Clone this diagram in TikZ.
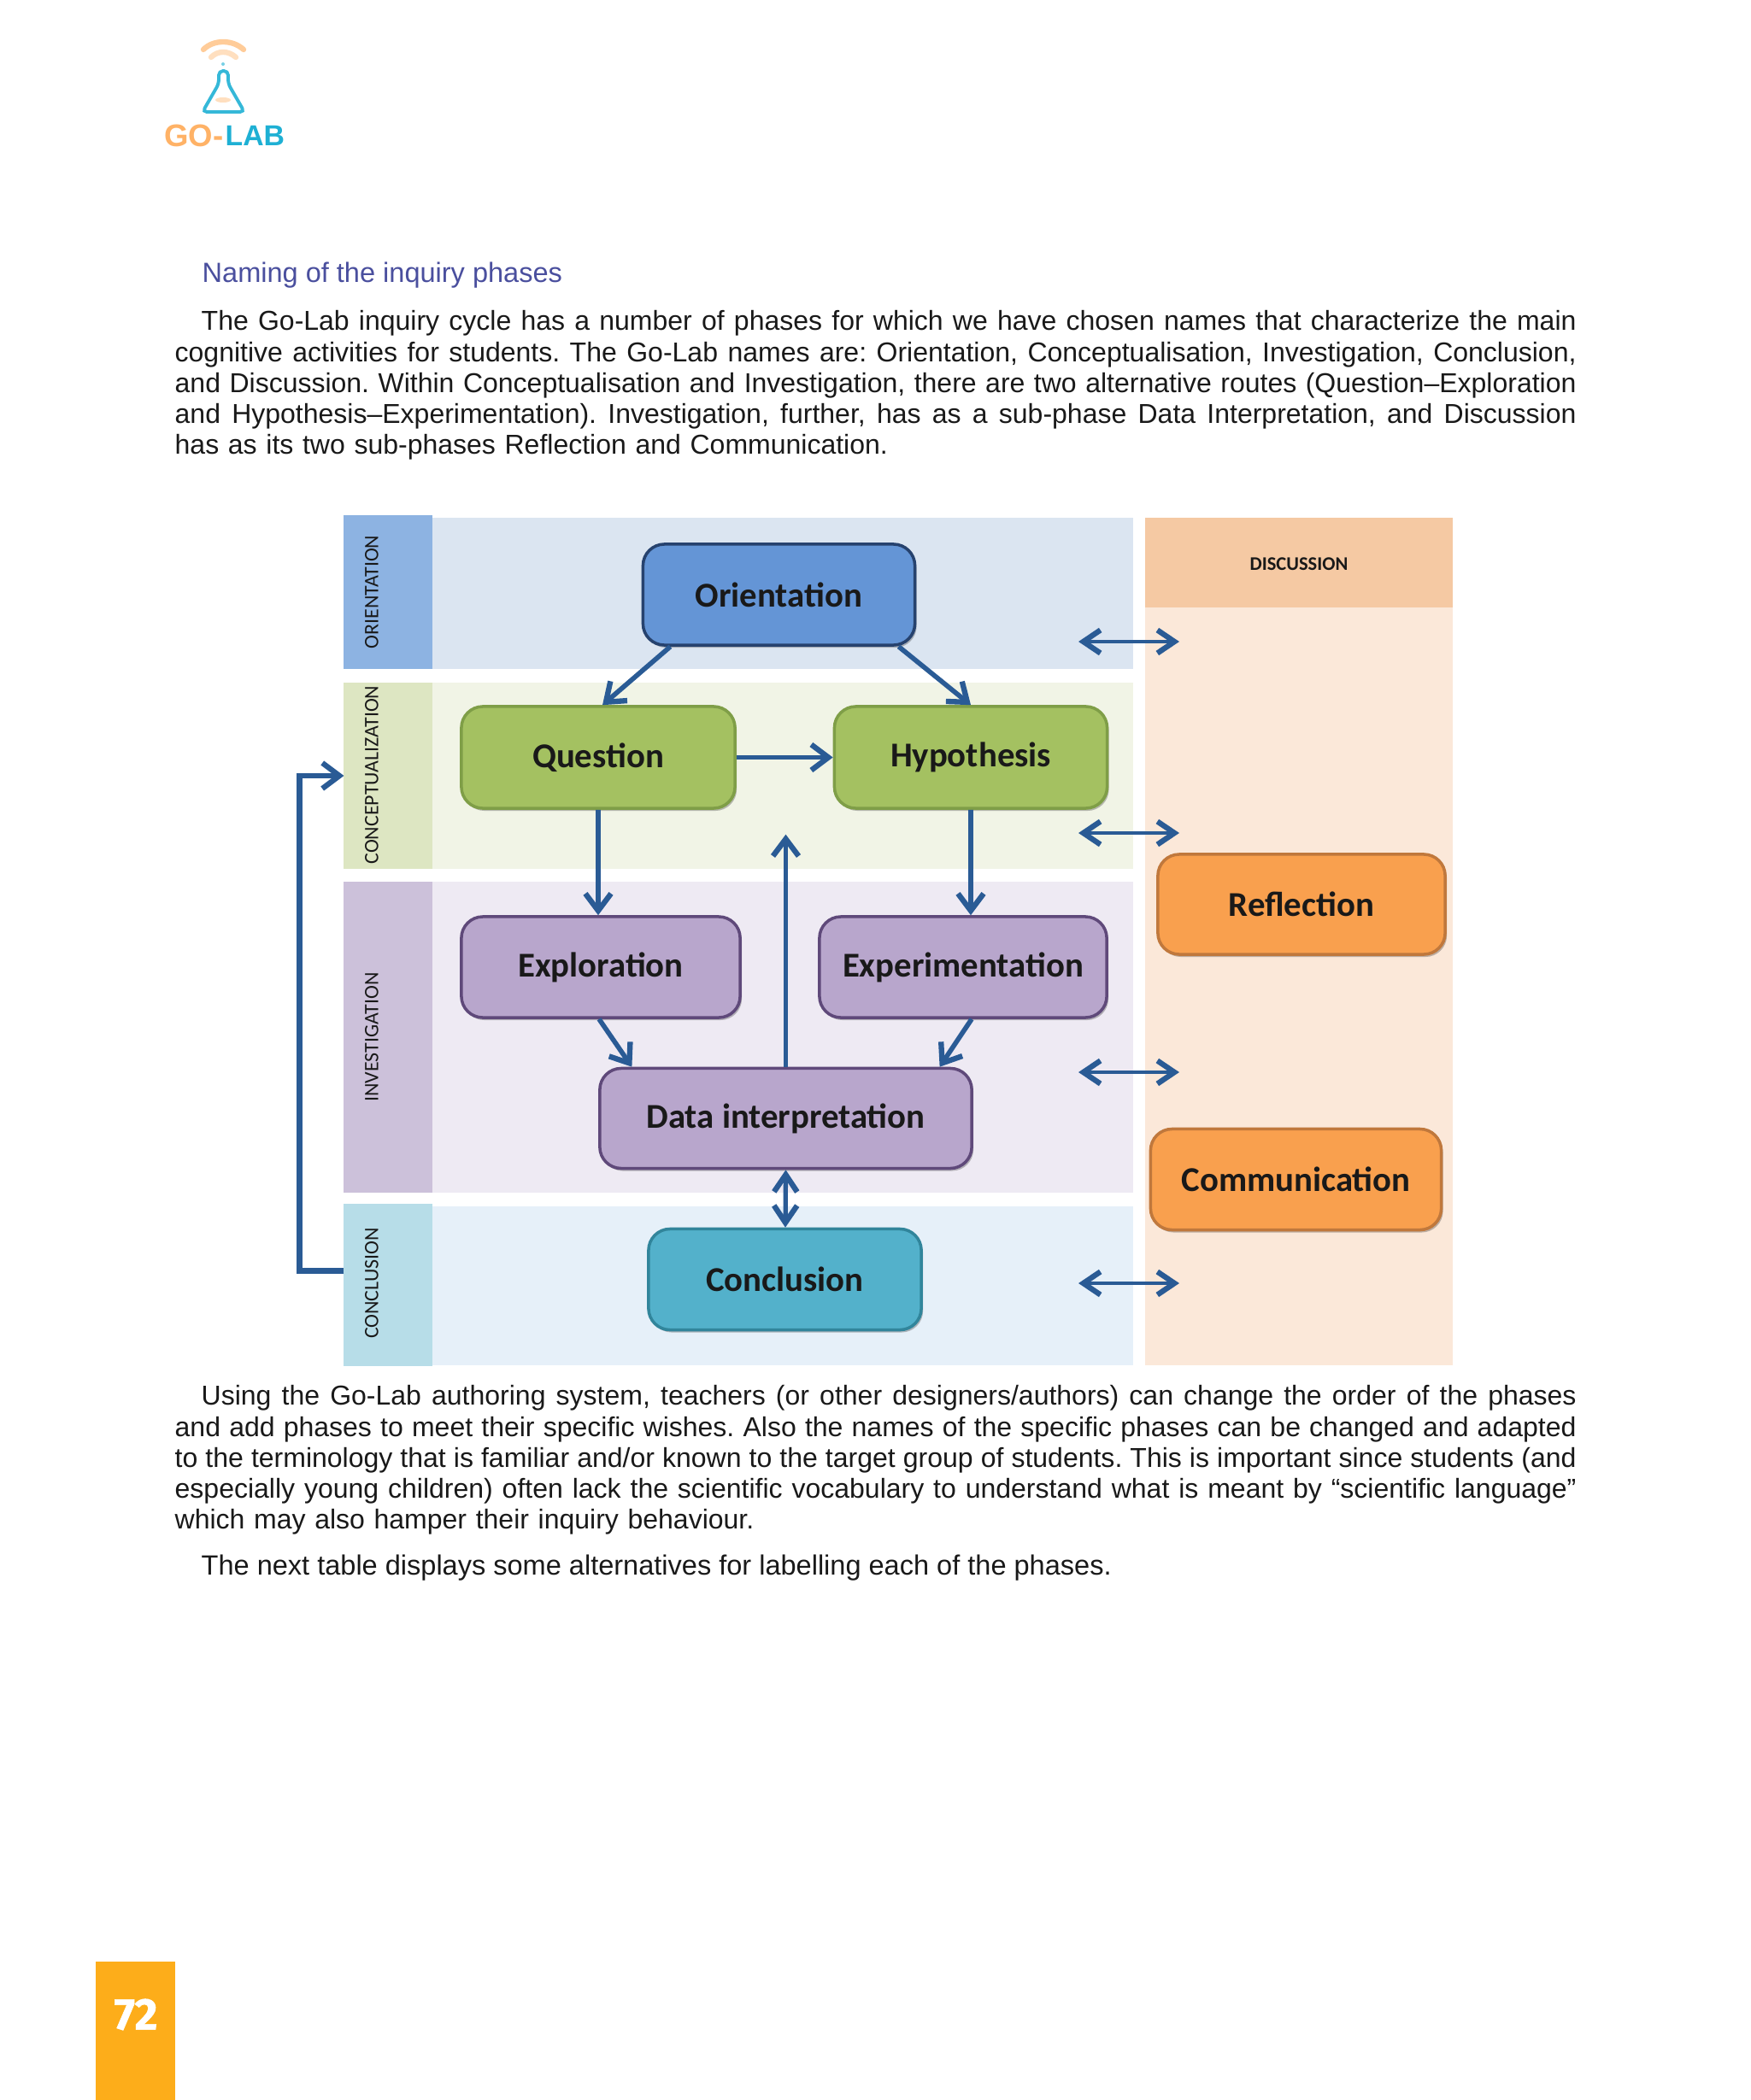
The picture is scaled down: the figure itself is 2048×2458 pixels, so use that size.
\documentclass[tikz,border=0pt]{standalone}
\usepackage{fontspec}
\setmainfont{Liberation Sans}
\newfontfamily\boxfont{Carlito}
\newfontfamily\pagefont[BoldFeatures={FakeBold=1}]{Fira Sans}
\usetikzlibrary{arrows.meta, shadows}
\frenchspacing
\newcommand{\fullline}[1]{\makebox[16.39cm][s]{\spaceskip=0.278em plus 1em minus 0.2em\relax #1}}
\newcommand{\firstline}[1]{\hspace*{0.31cm}\makebox[16.08cm][s]{\spaceskip=0.278em plus 1em minus 0.2em\relax #1}}
\definecolor{arrowblue}{HTML}{2A5B95}
\definecolor{logoblue}{HTML}{1EB0D4}
\tikzset{
    phasebox/.style={draw, line width=1pt, rounded corners=0.25cm, font=\boxfont\bfseries\fontsize{11.6}{14}\selectfont, text=black!90, drop shadow={shadow xshift=0.02cm, shadow yshift=-0.03cm, opacity=0.25, fill=black}},
    band/.style={minimum width=#1, inner sep=0pt, outer sep=0pt},
    bandlabel/.style={rotate=90, font=\boxfont\fontsize{6.8}{8}\selectfont, text=black!90, inner sep=0pt},
    bodytext/.style={anchor=north west, inner sep=0pt, text width=16.39cm, align=left, font=\fontsize{9.1}{10.27}\selectfont, text=black!90},
    flowarrow/.style={draw=arrowblue, line width=1.6pt, -{Straight Barb[length=0.2cm, width=0.3cm, line width=1.8pt]}},
    thinarrow/.style={draw=arrowblue, line width=1.2pt, {Straight Barb[length=0.2cm, width=0.27cm, line width=1.8pt]}-{Straight Barb[length=0.2cm, width=0.27cm, line width=1.8pt]}},
    logoarc/.style={draw=#1, line width=1.8pt, line cap=round},
}

\begin{document}
\begin{tikzpicture}[x=0.01cm, y=-0.01cm]

    \useasboundingbox (0,0) rectangle (2048,2458);
    \fill[white] (0,0) rectangle (2048,2458);

    \draw[logoarc=orange!40] (238,58) .. controls (250,46) and (272,46) .. (285,58);
    \draw[logoarc=orange!25] (247,67) .. controls (255,59) and (267,59) .. (276,67);
    \fill[logoblue!60] (261,75) circle[radius=2];
    \draw[draw=logoblue!90, line width=1.1pt, rounded corners=0.05cm] (256,83) -- (256,98) -- (237,131) -- (286,131) -- (267,98) -- (267,83) -- cycle;
    \fill[orange!25] (261,117) ellipse[x radius=9, y radius=3];
    \node[anchor=east, inner sep=0pt, text=orange!60, font=\bfseries\fontsize{10.4}{12}\selectfont] (logogo) at (262,159) {GO-};
    \node[anchor=west, inner sep=0pt, text=logoblue, font=\bfseries\fontsize{9.6}{12}\selectfont] (loglab) at (263,159) {LAB};

    \node[anchor=west, inner sep=0pt, text={rgb,255:red,74;green,79;blue,158}, font=\fontsize{9.25}{11}\selectfont] (heading) at (236,322) {Naming of the inquiry phases};

    \node[bodytext] (paraone) at (204,363) {\firstline{The Go-Lab inquiry cycle has a number of phases for which we have chosen names that characterize the main}\\
    \fullline{cognitive activities for students. The Go-Lab names are: Orientation, Conceptualisation, Investigation, Conclusion,}\\
    \fullline{and Discussion. Within Conceptualisation and Investigation, there are two alternative routes (Question–Exploration}\\
    \fullline{and Hypothesis–Experimentation). Investigation, further, has as a sub-phase Data Interpretation, and Discussion}\\
    has as its two sub-phases Reflection and Communication.};

    \fill[fill={rgb,255:red,219;green,229;blue,241}] (505,606) rectangle (1326,783);
    \fill[fill={rgb,255:red,241;green,244;blue,230}] (505,799) rectangle (1326,1017);
    \fill[fill={rgb,255:red,238;green,234;blue,243}] (505,1032) rectangle (1326,1396);
    \fill[fill={rgb,255:red,230;green,240;blue,249}] (505,1412) rectangle (1326,1598);
    \fill[fill={rgb,255:red,251;green,232;blue,217}] (1340,710) rectangle (1700,1598);

    \node[band=1.03cm, minimum height=1.79cm, fill={rgb,255:red,141;green,179;blue,226}] (bandorient) at (454,693) {};
    \node[band=1.03cm, minimum height=2.18cm, fill={rgb,255:red,221;green,230;blue,194}] (bandconcept) at (454,908) {};
    \node[band=1.03cm, minimum height=3.63cm, fill={rgb,255:red,204;green,193;blue,218}] (bandinvest) at (454,1214) {};
    \node[band=1.03cm, minimum height=1.89cm, fill={rgb,255:red,183;green,221;blue,232}] (bandconcl) at (454,1504) {};
    \node[band=3.60cm, minimum height=1.04cm, fill={rgb,255:red,245;green,201;blue,163}] (banddisc) at (1520,658.5) {};

    \node[bandlabel] (labelorient) at (435,693) {ORIENTATION};
    \node[bandlabel] (labelconcept) at (435,907) {CONCEPTUALIZATION};
    \node[bandlabel] (labelinvest) at (435,1214) {INVESTIGATION};
    \node[bandlabel] (labelconcl) at (435,1502) {CONCLUSION};
    \node[text=black!90, inner sep=0pt, font=\boxfont\bfseries\fontsize{6.4}{8}\selectfont] (labeldisc) at (1520,660) {DISCUSSION};

    \node[phasebox, minimum width=3.18cm, minimum height=1.18cm, fill={rgb,255:red,100;green,149;blue,214}, draw={rgb,255:red,38;green,66;blue,110}] (orientation) at (911.5,696) {Orientation};
    \node[phasebox, minimum width=3.20cm, minimum height=1.19cm, fill={rgb,255:red,164;green,193;blue,97}, draw={rgb,255:red,127;green,158;blue,71}] (question) at (700,886.5) {Question};
    \node[phasebox, minimum width=3.19cm, minimum height=1.19cm, fill={rgb,255:red,164;green,193;blue,97}, draw={rgb,255:red,127;green,158;blue,71}] (hypothesis) at (1136,886.5) {Hypothesis};
    \node[phasebox, minimum width=3.26cm, minimum height=1.18cm, fill={rgb,255:red,184;green,166;blue,204}, draw={rgb,255:red,95;green,73;blue,122}] (exploration) at (703,1132) {Exploration};
    \node[phasebox, minimum width=3.36cm, minimum height=1.18cm, fill={rgb,255:red,184;green,166;blue,204}, draw={rgb,255:red,95;green,73;blue,122}] (experimentation) at (1127,1132) {Experimentation};
    \node[phasebox, minimum width=4.35cm, minimum height=1.17cm, fill={rgb,255:red,184;green,166;blue,204}, draw={rgb,255:red,95;green,73;blue,122}] (interpretation) at (919.5,1309) {Data interpretation};
    \node[phasebox, minimum width=3.19cm, minimum height=1.18cm, fill={rgb,255:red,83;green,177;blue,203}, draw={rgb,255:red,49;green,133;blue,155}] (conclusion) at (918.5,1497.5) {Conclusion};
    \node[phasebox, minimum width=3.36cm, minimum height=1.17cm, fill={rgb,255:red,249;green,160;blue,78}, draw={rgb,255:red,192;green,120;blue,60}] (reflection) at (1523,1058.5) {Reflection};
    \node[phasebox, minimum width=3.40cm, minimum height=1.18cm, fill={rgb,255:red,249;green,160;blue,78}, draw={rgb,255:red,192;green,120;blue,60}] (communication) at (1516.5,1380.5) {Communication};

    \draw[flowarrow] ([xshift=-1.27cm]orientation.south) -- ([xshift=0.05cm]question.north);
    \draw[flowarrow] ([xshift=1.40cm]orientation.south) -- (hypothesis.north);
    \draw[flowarrow] (question.east) -- (hypothesis.west);
    \draw[flowarrow] (question.south) -- ([xshift=-0.03cm]exploration.north);
    \draw[flowarrow] (hypothesis.south) -- ([xshift=0.09cm]experimentation.north);
    \draw[flowarrow] ([xshift=-0.02cm]exploration.south) -- ([xshift=-1.80cm]interpretation.north);
    \draw[flowarrow] ([xshift=0.10cm]experimentation.south) -- ([xshift=1.80cm]interpretation.north);
    \draw[flowarrow, line width=1.2pt] (interpretation.north) -- ++(0,-272);
    \draw[thinarrow, line width=1.5pt] (interpretation.south) -- ([xshift=0.005cm]conclusion.north);
    \draw[flowarrow, line width=1.8pt] ([yshift=0.165cm]bandconcl.west) -- ++(-52,0) |- (bandconcept.west);

    \coordinate (orientleft) at (1262,751);
    \coordinate (orientright) at (1380,751);
    \draw[thinarrow] (orientleft) -- (orientright);
    \coordinate (conceptleft) at (1262,975);
    \coordinate (conceptright) at (1380,975);
    \draw[thinarrow] (conceptleft) -- (conceptright);
    \coordinate (investleft) at (1262,1255);
    \coordinate (investright) at (1380,1255);
    \draw[thinarrow] (investleft) -- (investright);
    \coordinate (conclleft) at (1262,1502);
    \coordinate (conclright) at (1380,1502);
    \draw[thinarrow] (conclleft) -- (conclright);

    \node[bodytext] (paratwo) at (204,1621) {\firstline{Using the Go-Lab authoring system, teachers (or other designers/authors) can change the order of the phases}\\
    \fullline{and add phases to meet their specific wishes. Also the names of the specific phases can be changed and adapted}\\
    \fullline{to the terminology that is familiar and/or known to the target group of students. This is important since students (and}\\
    \fullline{especially young children) often lack the scientific vocabulary to understand what is meant by “scientific language”}\\
    which may also hamper their inquiry behaviour.};

    \node[anchor=north west, inner sep=0pt, font=\fontsize{9.25}{10.27}\selectfont, text=black!90] (parathree) at (235,1819.5) {The next table displays some alternatives for labelling each of the phases.};

    \fill[fill={rgb,255:red,253;green,173;blue,26}] (112,2296) rectangle (205,2458);
    \node[text=white, inner sep=0pt, font=\pagefont\bfseries\fontsize{14.8}{16}\selectfont] (pagenumber) at (159,2358) {72};

\end{tikzpicture}
\end{document}
